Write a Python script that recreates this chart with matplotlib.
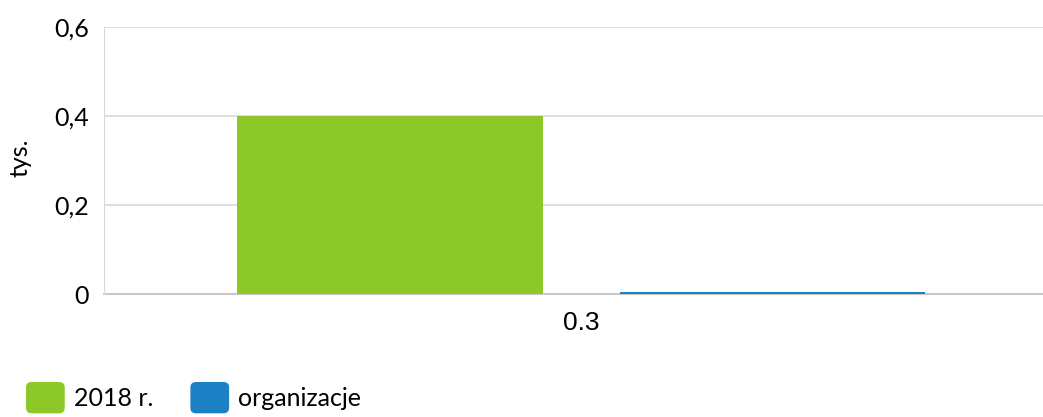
import numpy as np
import matplotlib.pyplot as plt
from matplotlib.patches import FancyBboxPatch
from matplotlib.legend_handler import HandlerPatch

categories = ["0.3"]
series_names = ["2018 r.", "organizacje"]
values_2018 = [0.4]
values_org = [0.005]
y_ticks = [0, 0.2, 0.4, 0.6]
y_tick_labels = ["0", "0,2", "0,4", "0,6"]

green = "#8cc828"
blue = "#1b80c4"

plt.rcParams['font.family'] = ['Lato', 'DejaVu Sans']


# rounded square legend markers
class RoundBox(HandlerPatch):
    def create_artists(self, legend, orig, xd, yd, width, height, fontsize, trans):
        p = FancyBboxPatch((-xd, -yd), width, height,
                           boxstyle="round,pad=0,rounding_size=4",
                           facecolor=orig.get_facecolor(), edgecolor='none',
                           transform=trans)
        return [p]


fig = plt.figure(figsize=(10.43, 4.17), dpi=100)
ax = fig.add_axes([104 / 1043, 1 - 294 / 417, 1 - 104 / 1043, 267 / 417])

x = np.arange(len(categories))
w = 0.325
off = 0.2035
b1 = ax.bar(x - off, values_2018, w, color=green, label=series_names[0], zorder=3)
b2 = ax.bar(x + off, values_org, w, color=blue, label=series_names[1], zorder=3)

ax.set_xlim(-0.508, 0.492)
ax.set_ylim(0, 0.6)
ax.set_yticks(y_ticks)
ax.set_yticklabels(y_tick_labels, fontsize=18)
ax.set_xticks(x)
ax.set_xticklabels(categories, fontsize=19, family=['Liberation Sans', 'DejaVu Sans'])
ax.tick_params(axis='both', length=0)
ax.tick_params(axis='y', pad=11)
ax.tick_params(axis='x', pad=12)

ax.grid(axis='y', color='#d9d9d9', linewidth=1.2, zorder=0)
for s in ['top', 'right']:
    ax.spines[s].set_visible(False)
ax.spines['left'].set_color('#d9d9d9')
ax.spines['bottom'].set_color('#c8c8c8')
ax.spines['bottom'].set_linewidth(1.5)
ax.spines['bottom'].set_zorder(2)

fig.text(20 / 1043, 1 - 158 / 417, "tys.", rotation=90, fontsize=18,
         ha='center', va='center')

fig.legend(handles=[b1.patches[0], b2.patches[0]], labels=series_names,
           handler_map={b1.patches[0].__class__: RoundBox()},
           loc='upper left', bbox_to_anchor=(26 / 1043, 1 - 382 / 417),
           ncol=2, frameon=False, fontsize=18, handlelength=1.55,
           handleheight=1.55, handletextpad=0.35, columnspacing=1.5,
           borderpad=0, borderaxespad=0)

fig.savefig("out.png", dpi=100)
